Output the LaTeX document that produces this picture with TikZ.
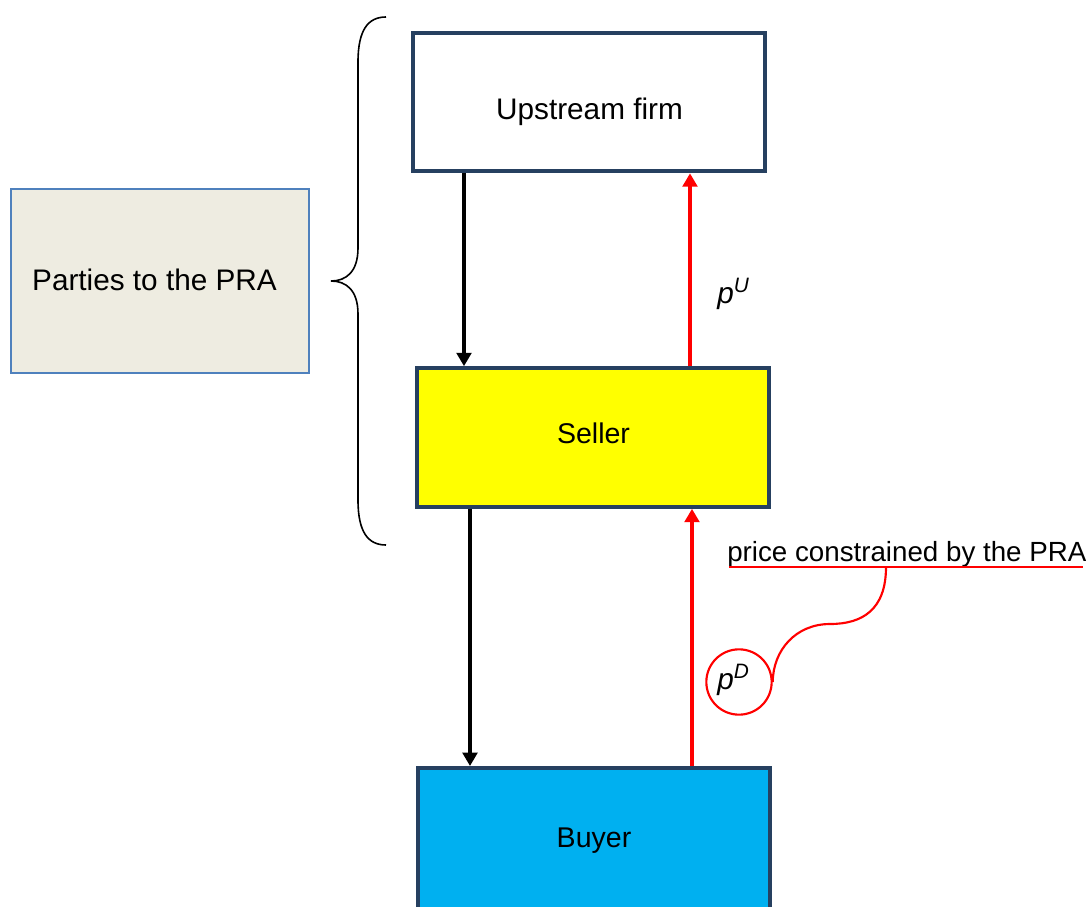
\documentclass[tikz,border=0pt]{standalone}
\usepackage{fontspec}
\setmainfont{Liberation Sans}
\usetikzlibrary{arrows.meta}
\definecolor{navy}{RGB}{38,64,96}
\definecolor{partyfill}{RGB}{238,236,225}
\definecolor{partyedge}{RGB}{79,129,189}
\definecolor{buyerblue}{RGB}{0,176,240}
\definecolor{sellyellow}{RGB}{255,255,0}
\definecolor{pred}{RGB}{255,0,0}
\begin{document}
\begin{tikzpicture}[x=0.75pt,y=-0.75pt,
  firmbox/.style={draw=navy,line width=3pt,minimum width=264pt,minimum height=104pt,inner sep=0pt},
  flowarrow/.style={line width=2.4pt,-{Triangle[width=11pt,length=10pt]}},
  pricearrow/.style={flowarrow,draw=pred,fill=pred},
  callline/.style={draw=pred,line width=1.6pt},
  lbl/.style={inner sep=0pt,anchor=base,font=\fontsize{22.3pt}{26pt}\selectfont},
  lblsm/.style={lbl,font=\fontsize{21.4pt}{25pt}\selectfont}]
\useasboundingbox (0,0) rectangle (1086,907);
% parties box
\node[draw=partyedge,fill=partyfill,line width=1.6pt,minimum width=224pt,minimum height=138pt] (parties) at (160,281) {};
\node[lbl] (partiestext) at (154.5,290) {Parties to the PRA};
% firms
\node[firmbox,fill=white] (up) at (589,102) {};
\node[lbl] (uptext) at (589.5,119) {Upstream firm};
\node[firmbox,fill=sellyellow] (seller) at (592.5,437.5) {};
\node[lblsm] (sellertext) at (593.5,443) {Seller};
\node[firmbox,fill=buyerblue,minimum height=138pt] (buyer) at (593.5,860) {};
\node[lblsm] (buyertext) at (594,847) {Buyer};
% brace
\draw[line width=1.2pt] (386,17) .. controls (368,17) and (358,30) .. (358,62) -- (358,248)
  .. controls (358,272) and (346,281) .. (331,281)
  .. controls (346,281) and (358,290) .. (358,314) -- (358,500)
  .. controls (358,532) and (368,545) .. (386,545);
% flows
\draw[flowarrow] (up.south -| 464,0) -- (seller.north -| 464,0);
\draw[flowarrow] (seller.south -| 470,0) -- (buyer.north -| 470,0);
\draw[pricearrow] (seller.north -| 690,0) -- (up.south -| 690,0);
\draw[pricearrow] (buyer.north -| 692,0) -- (seller.south -| 692,0);
% labels
\node[lbl,anchor=base west] (pu) at (717,303) {\itshape p\textsuperscript{U}};
\node[draw=pred,line width=1.6pt,circle,minimum size=49pt,inner sep=0pt] (pd) at (739,682) {};
\node[lbl,anchor=base west] (pdtext) at (717,689) {\itshape p\textsuperscript{D}};
\node[inner sep=0pt,anchor=base west,font=\fontsize{20.8pt}{24pt}\selectfont] (callout) at (727,561) {price constrained by the PRA};
\coordinate (ulL) at (729,567);
\coordinate (ulR) at (1083,567);
\coordinate (ulM) at (886,567);
\draw[callline] (ulL) -- (ulR);
\draw[callline] (ulM) .. controls (886,610) and (862,624) .. (830,624)
  .. controls (796,624) and (773,650) .. (pd.east);
\end{tikzpicture}
\end{document}
